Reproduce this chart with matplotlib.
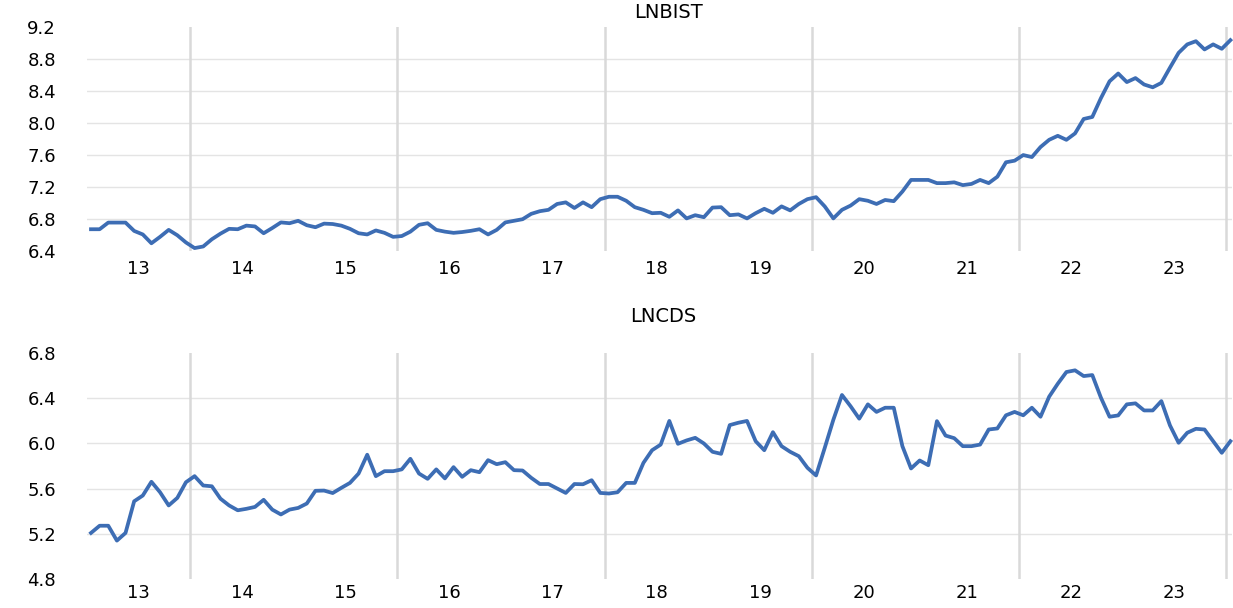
# LNBIST / LNCDS monthly series, 2013-01 .. 2024-01
import matplotlib
matplotlib.use("Agg")
from matplotlib import pyplot as plt
import numpy as np

# LN of BIST index, monthly
bist = [6.675, 6.675, 6.758, 6.758, 6.758, 6.654, 6.61, 6.50, 6.58, 6.667, 6.60, 6.51,
        6.44, 6.46, 6.55, 6.62, 6.68, 6.675, 6.72, 6.71, 6.625, 6.69, 6.76, 6.75,
        6.78, 6.725, 6.70, 6.745, 6.74, 6.72, 6.68, 6.625, 6.61, 6.66, 6.63, 6.58,
        6.59, 6.645, 6.73, 6.75, 6.667, 6.645, 6.63, 6.64, 6.655, 6.675, 6.61, 6.667,
        6.76, 6.78, 6.80, 6.867, 6.90, 6.917, 6.99, 7.01, 6.94, 7.01, 6.95, 7.05,
        7.08, 7.08, 7.03, 6.95, 6.917, 6.875, 6.88, 6.83, 6.91, 6.81, 6.85, 6.825,
        6.945, 6.95, 6.85, 6.86, 6.81, 6.875, 6.93, 6.88, 6.96, 6.91, 6.99, 7.05,
        7.075, 6.96, 6.81, 6.917, 6.97, 7.05, 7.03, 6.99, 7.04, 7.025, 7.145, 7.29,
        7.29, 7.29, 7.25, 7.25, 7.26, 7.225, 7.24, 7.29, 7.25, 7.33, 7.51, 7.53,
        7.60, 7.575, 7.70, 7.79, 7.84, 7.79, 7.87, 8.05, 8.075, 8.31, 8.52, 8.617,
        8.51, 8.56, 8.48, 8.445, 8.50, 8.69, 8.875, 8.98, 9.02, 8.917, 8.98, 8.925,
        9.033]

# LN of CDS spread, monthly
cds = [5.206, 5.27, 5.27, 5.138, 5.206, 5.487, 5.538, 5.66, 5.567, 5.45, 5.517, 5.656,
       5.71, 5.627, 5.62, 5.51, 5.45, 5.407, 5.42, 5.437, 5.50, 5.413, 5.37, 5.413,
       5.428, 5.467, 5.58, 5.582, 5.56, 5.606, 5.65, 5.733, 5.90, 5.71, 5.754, 5.754,
       5.77, 5.864, 5.733, 5.686, 5.77, 5.69, 5.79, 5.704, 5.763, 5.745, 5.852, 5.816,
       5.834, 5.763, 5.76, 5.695, 5.64, 5.64, 5.60, 5.561, 5.64, 5.638, 5.674, 5.561,
       5.556, 5.567, 5.65, 5.65, 5.828, 5.94, 5.99, 6.20, 5.997, 6.027, 6.05, 6.0,
       5.926, 5.908, 6.163, 6.184, 6.20, 6.02, 5.94, 6.10, 5.976, 5.926, 5.887, 5.784,
       5.716, 5.96, 6.21, 6.43, 6.33, 6.22, 6.347, 6.28, 6.317, 6.317, 5.976, 5.778,
       5.849, 5.807, 6.198, 6.07, 6.047, 5.976, 5.976, 5.99, 6.124, 6.133, 6.25, 6.28,
       6.25, 6.317, 6.237, 6.415, 6.53, 6.634, 6.649, 6.598, 6.607, 6.406, 6.237, 6.249,
       6.347, 6.356, 6.293, 6.293, 6.376, 6.16, 6.006, 6.095, 6.13, 6.124, 6.02, 5.917,
       6.02]

years = ["13", "14", "15", "16", "17", "18", "19", "20", "21", "22", "23"]
bist_ticks = [6.4, 6.8, 7.2, 7.6, 8.0, 8.4, 8.8, 9.2]
cds_ticks = [4.8, 5.2, 5.6, 6.0, 6.4, 6.8]

blue = "#3d6db4"
x = np.arange(len(bist))

fig = plt.figure(figsize=(12.33, 6.08), dpi=100)
ax1 = fig.add_axes([0.0703, 0.5867, 0.929, 0.3693])
ax2 = fig.add_axes([0.0703, 0.0482, 0.929, 0.3707])


def style(ax, y, ticks, pad):
    # gridlines only on the inner ticks, vertical ones every two years
    for t in ticks[1:-1]:
        ax.axhline(t, color="#e4e4e4", lw=1.0, zorder=0)
    for k in range(6):
        ax.axvline(11.5 + 24 * k, color="#d9d9d9", lw=1.8, zorder=0)
    ax.plot(x, y, color=blue, lw=2.7, solid_joinstyle="round", zorder=3, clip_on=False)
    ax.set_xlim(-0.5, len(y) - 0.8)
    ax.set_ylim(ticks[0], ticks[-1])
    ax.set_yticks(ticks)
    ax.set_yticklabels(["{:.1f}".format(t) for t in ticks], fontsize=13)
    ax.set_xticks([5.5 + 12 * k for k in range(len(years))])
    ax.set_xticklabels(years, fontsize=13)
    ax.tick_params(axis="y", length=0, pad=22)
    ax.tick_params(axis="x", length=0, pad=pad)
    for s in ax.spines.values():
        s.set_visible(False)


style(ax1, bist, bist_ticks, 6)
style(ax2, cds, cds_ticks, 4)

fig.text(668 / 1233, 1 - 13 / 608, "LNBIST", ha="center", va="center", fontsize=14)
fig.text(663 / 1233, 1 - 316 / 608, "LNCDS", ha="center", va="center", fontsize=14)

fig.savefig("out.png", dpi=100)
